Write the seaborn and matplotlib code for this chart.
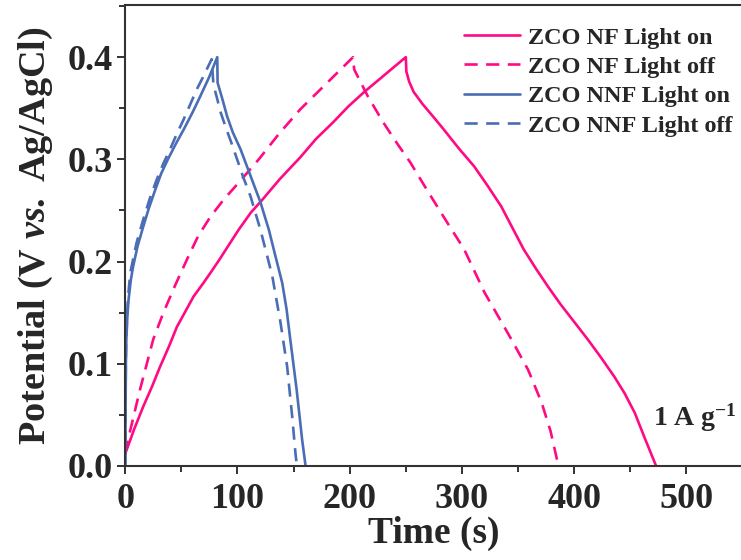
import numpy as np
import pandas as pd
import matplotlib
matplotlib.use("Agg")
import matplotlib.pyplot as plt
from matplotlib.ticker import MultipleLocator
import seaborn as sns

# Galvanostatic charge/discharge curves at 1 A/g
nf_on_t = [0, 8, 16, 24, 31, 39, 46, 54, 61, 69, 76, 84, 91, 101, 112, 121, 138,
           156, 170, 185, 199, 213, 225, 238, 250,
           250.5, 253, 257, 265, 275, 284, 297, 311, 323, 335, 345, 355, 366, 377,
           388, 400, 412, 424, 436, 445, 454, 463, 473]
nf_on_v = [0.012, 0.036, 0.058, 0.078, 0.097, 0.117, 0.136, 0.152, 0.166, 0.178,
           0.189, 0.202, 0.214, 0.231, 0.248, 0.259, 0.281,
           0.302, 0.320, 0.336, 0.352, 0.366, 0.377, 0.389, 0.400,
           0.386, 0.376, 0.366, 0.354, 0.341, 0.329, 0.311, 0.293, 0.274, 0.254,
           0.233, 0.212, 0.193, 0.175, 0.158, 0.141, 0.124, 0.106, 0.087, 0.071,
           0.052, 0.027, 0.0]

nf_off_t = [0, 3, 8, 13, 19, 25, 34, 45, 55, 65, 76, 88, 101, 119, 137, 156, 180,
            203, 204, 210, 216, 230, 242, 254, 270, 287, 302, 320, 332, 344, 359,
            371, 379, 386]
nf_off_v = [0.012, 0.028, 0.051, 0.074, 0.099, 0.124, 0.150, 0.178, 0.202, 0.225,
            0.244, 0.261, 0.277, 0.300, 0.325, 0.349, 0.375,
            0.400, 0.388, 0.375, 0.362, 0.336, 0.316, 0.297, 0.268, 0.238, 0.212,
            0.170, 0.147, 0.124, 0.094, 0.062, 0.034, 0.0]

nnf_on_t = [0, 0.3, 0.6, 1, 2, 3, 5, 7, 11, 16, 21, 27, 32, 38, 45, 52, 60, 67,
            75, 82,
            82.3, 86.3, 90.8, 96, 102.7, 111.6, 120.5, 128, 133.9, 139.9, 143.8,
            146.7, 149.7, 152.7, 155.4, 157.7, 160.7]
nnf_on_v = [0.0, 0.05, 0.10, 0.124, 0.148, 0.163, 0.182, 0.195, 0.215, 0.234,
            0.252, 0.271, 0.286, 0.300, 0.315, 0.329, 0.346, 0.362, 0.381, 0.400,
            0.375, 0.360, 0.342, 0.326, 0.310, 0.284, 0.258, 0.231, 0.205, 0.179,
            0.153, 0.127, 0.101, 0.075, 0.048, 0.025, 0.0]

nnf_off_t = [0, 0.3, 0.6, 1, 2.5, 4.5, 10, 16, 22, 28, 34, 40, 46, 52, 58, 64,
             70, 77,
             78.6, 82, 85, 90, 94, 99.7, 105, 111.6, 120.5, 131, 138.4, 144.3,
             148.8, 151.8, 153]
nnf_off_v = [0.0, 0.06, 0.11, 0.13, 0.165, 0.189, 0.218, 0.241, 0.262, 0.280,
             0.296, 0.310, 0.325, 0.339, 0.354, 0.369, 0.382, 0.398,
             0.373, 0.359, 0.346, 0.330, 0.318, 0.300, 0.283, 0.264, 0.231, 0.186,
             0.140, 0.097, 0.048, 0.011, 0.0]

labels = ["ZCO NF Light on", "ZCO NF Light off", "ZCO NNF Light on", "ZCO NNF Light off"]
x_ticks = [0, 100, 200, 300, 400, 500]
y_ticks = [0.0, 0.1, 0.2, 0.3, 0.4]

PINK = "#FF0A84"
BLUE = "#4A6DB5"
DASH = (0, (5, 3.2))

sns.set_style("ticks")
plt.rcParams["font.family"] = ["Liberation Serif", "DejaVu Serif"]
plt.rcParams["font.weight"] = "bold"
plt.rcParams["mathtext.fontset"] = "custom"
plt.rcParams["mathtext.rm"] = "Liberation Serif:bold"
plt.rcParams["mathtext.it"] = "Liberation Serif:italic:bold"
plt.rcParams["mathtext.bf"] = "Liberation Serif:bold"

fig = plt.figure(figsize=(7.41, 5.60), dpi=100)
ax = fig.add_axes([0.169, 0.168, 0.833, 0.823])

series = [
    (nf_on_t, nf_on_v, PINK, "-"),
    (nf_off_t, nf_off_v, PINK, DASH),
    (nnf_on_t, nnf_on_v, BLUE, "-"),
    (nnf_off_t, nnf_off_v, BLUE, DASH),
]
for (t, v, c, ls), lab in zip(series, labels):
    df = pd.DataFrame({"t": t, "v": v})
    sns.lineplot(data=df, x="t", y="v", ax=ax, estimator=None, sort=False,
                 color=c, linestyle=ls, linewidth=1.9, label=lab)

ax.set_xlim(0, 550)
ax.set_ylim(0, 0.451)
ax.set_xticks(x_ticks)
ax.set_yticks(y_ticks)
ax.set_yticklabels([f"{y:.1f}" for y in y_ticks])
ax.xaxis.set_minor_locator(MultipleLocator(50))
ax.yaxis.set_minor_locator(MultipleLocator(0.05))
ax.tick_params(axis="both", which="major", direction="out", length=6, width=1.4,
               color="#333333", labelsize=26, pad=3)
ax.tick_params(axis="x", which="major", pad=6)
ax.tick_params(axis="both", which="minor", direction="out", length=4, width=1.4,
               color="#333333")
for s in ax.spines.values():
    s.set_color("#333333")
    s.set_linewidth(1.5)
for lbl in ax.get_xticklabels() + ax.get_yticklabels():
    lbl.set_fontweight("bold")

ax.set_xlabel("Time (s)", fontsize=27, fontweight="bold", labelpad=0)
ax.set_ylabel(r"Potential (V $\mathit{vs.}$ Ag/AgCl)", fontsize=27.5,
              fontweight="bold", labelpad=9)

ax.text(0.99, 0.104, r"1 A g$^{\mathbf{-1}}$", transform=ax.transAxes,
        fontsize=20, fontweight="bold", ha="right", va="center")

leg = ax.legend(loc="upper right", frameon=False, fontsize=17.5,
                handlelength=2.3, handletextpad=0.35, labelspacing=0.3,
                borderaxespad=0.3, bbox_to_anchor=(1.012, 0.99))
for txt in leg.get_texts():
    txt.set_fontweight("bold")

fig.savefig("out.png", dpi=100)
